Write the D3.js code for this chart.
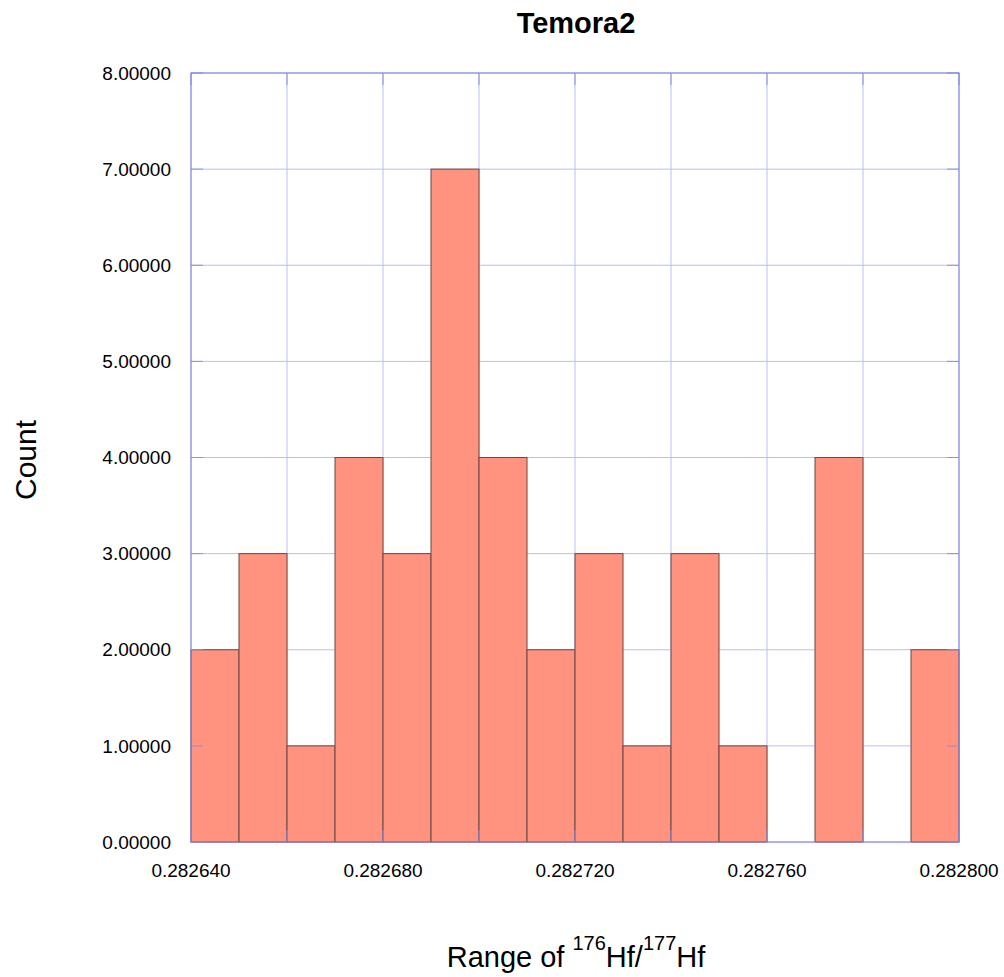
<!DOCTYPE html>
<html>
<head>
<meta charset="utf-8">
<script src="https://cdn.jsdelivr.net/npm/d3@7"></script>
<style>
  body { margin: 0; background: #fff; }
  svg text { font-family: "Liberation Sans", Arial, sans-serif; fill: #000; }
</style>
</head>
<body>
<div id="chart"></div>
<script>
// histogram of 176Hf/177Hf, bin width 0.00001
const binStarts = [0.28264, 0.28265, 0.28266, 0.28267, 0.28268, 0.28269, 0.28270, 0.28271,
                   0.28272, 0.28273, 0.28274, 0.28275, 0.28276, 0.28277, 0.28278, 0.28279];
const counts = [2, 3, 1, 4, 3, 7, 4, 2, 3, 1, 3, 1, 0, 4, 0, 2];
const binWidth = 0.00001;
const xTicks = [0.28264, 0.28268, 0.28272, 0.28276, 0.28280];
const xGrid = [0.28264, 0.28266, 0.28268, 0.28270, 0.28272, 0.28274, 0.28276, 0.28278, 0.28280];
const yTicks = [0, 1, 2, 3, 4, 5, 6, 7, 8];

const totalW = 1004, totalH = 977;
const margin = { top: 73, right: 45, bottom: 135, left: 191 };
const W = totalW - margin.left - margin.right;
const H = totalH - margin.top - margin.bottom;

const svg = d3.select("#chart").append("svg")
  .attr("width", totalW).attr("height", totalH);
const g = svg.append("g").attr("transform", `translate(${margin.left},${margin.top})`);

const x = d3.scaleLinear().domain([0.28264, 0.28280]).range([0, W]);
const y = d3.scaleLinear().domain([0, 8]).range([H, 0]);

// gridlines
g.append("g").selectAll("line").data(yTicks).join("line")
  .attr("x1", 0).attr("x2", W).attr("y1", d => y(d)).attr("y2", d => y(d))
  .attr("stroke", "#b9bff2").attr("stroke-width", 1);
g.append("g").selectAll("line").data(xGrid).join("line")
  .attr("x1", d => x(d)).attr("x2", d => x(d)).attr("y1", 0).attr("y2", H)
  .attr("stroke", "#b9bff2").attr("stroke-width", 1);

// bars
g.append("g").selectAll("rect").data(counts.map((c, i) => ({ x0: binStarts[i], c })))
  .join("rect")
  .attr("x", d => x(d.x0)).attr("width", d => x(d.x0 + binWidth) - x(d.x0))
  .attr("y", d => y(d.c)).attr("height", d => y(0) - y(d.c))
  .attr("fill", "#ff9380").attr("stroke", "#6a4640").attr("stroke-width", 1)
  .attr("display", d => d.c > 0 ? null : "none");

// inward ticks on all four sides
const tk = 12, tickCol = "#8a90e6";
const ticks = g.append("g").attr("stroke", tickCol).attr("stroke-width", 1);
yTicks.forEach(v => {
  ticks.append("line").attr("x1", 0).attr("x2", tk).attr("y1", y(v)).attr("y2", y(v));
  ticks.append("line").attr("x1", W - tk).attr("x2", W).attr("y1", y(v)).attr("y2", y(v));
});
xGrid.forEach(v => {
  ticks.append("line").attr("x1", x(v)).attr("x2", x(v)).attr("y1", H - tk).attr("y2", H);
  ticks.append("line").attr("x1", x(v)).attr("x2", x(v)).attr("y1", 0).attr("y2", tk);
});

// frame
g.append("rect").attr("x", 0).attr("y", 0).attr("width", W).attr("height", H)
  .attr("fill", "none").attr("stroke", "#7e85e2").attr("stroke-width", 1);

// tick labels
g.append("g").selectAll("text").data(yTicks).join("text")
  .attr("x", -20).attr("y", d => y(d)).attr("dy", "0.35em")
  .attr("text-anchor", "end").style("font-size", "19px")
  .text(d => d3.format(".5f")(d));
g.append("g").selectAll("text").data(xTicks).join("text")
  .attr("x", d => x(d)).attr("y", H + 35)
  .attr("text-anchor", "middle").style("font-size", "19px")
  .text(d => d3.format(".6f")(d));

// title
svg.append("text").attr("x", 576).attr("y", 33)
  .attr("text-anchor", "middle").style("font-size", "29px").style("font-weight", "bold")
  .text("Temora2");

// axis labels
svg.append("text").attr("transform", "translate(36,460) rotate(-90)")
  .attr("text-anchor", "middle").style("font-size", "30px")
  .text("Count");

const xl = svg.append("text").attr("x", 576).attr("y", 967)
  .attr("text-anchor", "middle").style("font-size", "29px");
xl.append("tspan").text("Range of ");
xl.append("tspan").attr("dy", -17).style("font-size", "20px").text("176");
xl.append("tspan").attr("dy", 17).text("Hf/");
xl.append("tspan").attr("dy", -17).style("font-size", "20px").text("177");
xl.append("tspan").attr("dy", 17).text("Hf");
</script>
</body>
</html>
